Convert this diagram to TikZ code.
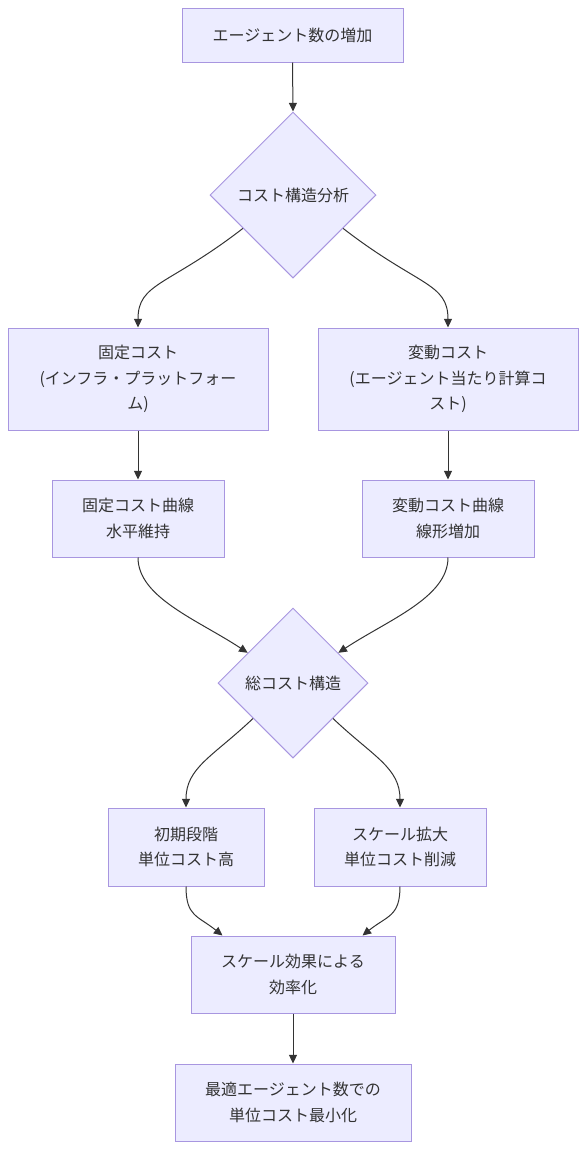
\documentclass[tikz,border=0pt]{standalone}
\usepackage{fontspec}
\setmainfont{Noto Sans CJK JP}
\usetikzlibrary{shapes.geometric,arrows.meta,calc}
\definecolor{nodefill}{HTML}{ECECFF}
\definecolor{nodeline}{HTML}{A896E0}
\definecolor{txt}{HTML}{333333}
\definecolor{edgec}{HTML}{333333}
\tikzset{
  box/.style={draw=nodeline, fill=nodefill, line width=0.75pt, rectangle, inner sep=0pt,
    align=center, text=txt, font=\fontsize{12}{19}\selectfont},
  dia/.style={draw=nodeline, fill=nodefill, line width=0.75pt, diamond, aspect=1, inner sep=0pt,
    align=center, text=txt, font=\fontsize{12}{19}\selectfont},
  lbl/.style={text=txt, font=\fontsize{12}{19}\selectfont},
  edge/.style={draw=edgec, line width=0.75pt, -{Triangle[length=6.5pt,width=6pt]}}
}
\begin{document}
\begin{tikzpicture}[x=0.75pt,y=-0.75pt]
\useasboundingbox (0,0) rectangle (586,1150);
\node[box, minimum width=165.75pt, minimum height=40.5pt] (b1) at (292.5,35) {エージェント数の増加};
\node[dia, minimum width=124.5pt, minimum height=124.5pt] (d1) at (293,195) {};
\node[lbl] (t1) at (d1.center) {コスト構造分析};
\node[box, minimum width=195pt, minimum height=76.5pt] (b3) at (138,379) {固定コスト\\(インフラ・プラットフォー\\ム)};
\node[box, minimum width=195pt, minimum height=76.5pt] (b4) at (448,379) {変動コスト\\(エージェント当たり計算コ\\スト)};
\node[box, minimum width=129pt, minimum height=57.75pt] (b5) at (138,518.5) {固定コスト曲線\\水平維持};
\node[box, minimum width=129pt, minimum height=57.75pt] (b6) at (448,518.5) {変動コスト曲線\\線形増加};
\node[dia, minimum width=112.5pt, minimum height=112.5pt] (d2) at (293,683) {};
\node[lbl] (t2) at (d2.center) {総コスト構造};
\node[box, minimum width=117pt, minimum height=58.5pt] (b8) at (186,847) {初期段階\\単位コスト高};
\node[box, minimum width=129pt, minimum height=58.5pt] (b9) at (400,847) {スケール拡大\\単位コスト削減};
\node[box, minimum width=153pt, minimum height=57.75pt] (b10) at (293,974.5) {スケール効果による\\効率化};
\node[box, minimum width=177pt, minimum height=57.75pt] (b11) at (293,1102.5) {最適エージェント数での\\単位コスト最小化};

\draw[edge] (b1.south) -- (d1.north);
\draw[edge] ($(d1.west)!0.4!(d1.south)$) .. controls +(-75,58) and +(0,-45) .. (b3.north);
\draw[edge] ($(d1.east)!0.4!(d1.south)$) .. controls +(75,58) and +(0,-45) .. (b4.north);
\draw[edge] (b3.south) -- (b5.north);
\draw[edge] (b4.south) -- (b6.north);
\draw[edge] (b5.south) .. controls +(0,40) and +(-50,-33) .. ($(d2.west)!0.4!(d2.north)$);
\draw[edge] (b6.south) .. controls +(0,40) and +(50,-33) .. ($(d2.east)!0.4!(d2.north)$);
\draw[edge] ($(d2.west)!0.47!(d2.south)$) .. controls +(-40,38) and +(0,-40) .. (b8.north);
\draw[edge] ($(d2.east)!0.47!(d2.south)$) .. controls +(40,38) and +(0,-40) .. (b9.north);
\draw[edge] (b8.south) .. controls +(0,30) and +(-25,-20) .. ($(b10.north west)+(32,0)$);
\draw[edge] (b9.south) .. controls +(0,30) and +(25,-20) .. ($(b10.north east)+(-33,0)$);
\draw[edge] (b10.south) -- (b11.north);
\end{tikzpicture}
\end{document}
